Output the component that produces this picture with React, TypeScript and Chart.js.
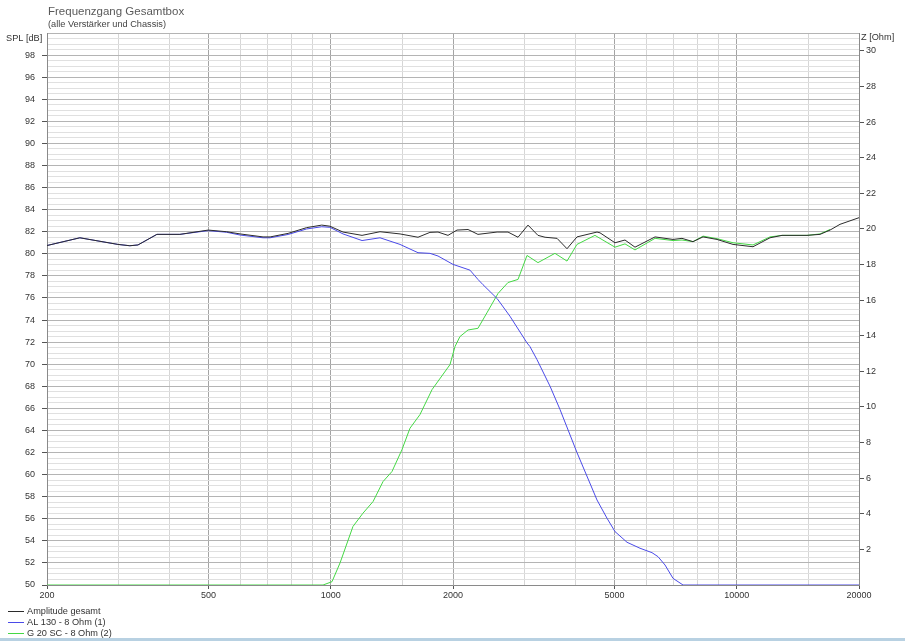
import React, { useEffect, useRef } from 'react';
import { Chart, registerables } from 'chart.js';

Chart.register(...registerables);

// ---- Data ----
const totalFreq = [200, 241, 299, 320, 335, 373, 425, 499, 554, 598, 681, 709, 785, 872, 950, 995, 1072, 1194, 1322, 1481, 1640, 1755, 1837, 1944, 2046, 2178, 2304, 2568, 2732, 2892, 3060, 3238, 3371, 3608, 3818, 4040, 4526, 4604, 5012, 5305, 5614, 6290, 6966, 7330, 7800, 8258, 8940, 9790, 10964, 12074, 12924, 14892, 16034, 16970, 17958, 20000];
const totalDb = [80.75, 81.45, 80.85, 80.73, 80.8, 81.76, 81.76, 82.15, 82.0, 81.8, 81.53, 81.53, 81.85, 82.37, 82.6, 82.5, 81.97, 81.67, 82.0, 81.8, 81.5, 81.94, 81.97, 81.67, 82.15, 82.2, 81.76, 81.97, 81.97, 81.5, 82.6, 81.67, 81.5, 81.4, 80.46, 81.53, 81.97, 81.9, 81.0, 81.25, 80.6, 81.53, 81.3, 81.4, 81.1, 81.53, 81.3, 80.85, 80.64, 81.45, 81.67, 81.67, 81.76, 82.15, 82.67, 83.27];

const wooferFreq = [200, 241, 299, 320, 335, 373, 425, 499, 554, 598, 681, 709, 785, 872, 950, 995, 1072, 1194, 1322, 1481, 1640, 1755, 1837, 2000, 2202, 2304, 2371, 2568, 2762, 3043, 3094, 3220, 3468, 3669, 4040, 4526, 4790, 5012, 5366, 5776, 6182, 6396, 6657, 6966, 7373, 20000];
const wooferDb = [80.75, 81.45, 80.85, 80.73, 80.8, 81.76, 81.76, 82.1, 81.95, 81.7, 81.45, 81.45, 81.75, 82.25, 82.45, 82.4, 81.8, 81.2, 81.45, 80.85, 80.1, 80.04, 79.8, 79.04, 78.52, 77.68, 77.2, 75.95, 74.35, 71.93, 71.6, 70.42, 68.0, 65.9, 62.0, 57.7, 56.05, 54.84, 53.87, 53.33, 52.93, 52.57, 51.81, 50.6, 50.0, 50.0];

const tweeterFreq = [200, 957, 1007, 1054, 1134, 1200, 1271, 1345, 1415, 1497, 1567, 1658, 1776, 1966, 2023, 2080, 2178, 2304, 2424, 2581, 2732, 2892, 3043, 3238, 3566, 3818, 4040, 4474, 5012, 5305, 5614, 6290, 6966, 7330, 7800, 8258, 8940, 9790, 10964, 12074, 12924, 14892, 16034, 16970];
const tweeterDb = [50.0, 50.0, 50.3, 52.0, 55.3, 56.5, 57.56, 59.37, 60.28, 62.25, 64.2, 65.43, 67.7, 69.96, 71.6, 72.5, 73.1, 73.25, 74.65, 76.4, 77.4, 77.68, 79.85, 79.2, 80.04, 79.34, 80.85, 81.67, 80.6, 80.9, 80.35, 81.4, 81.2, 81.25, 81.1, 81.6, 81.37, 81.0, 80.8, 81.53, 81.67, 81.67, 81.8, 82.2];

const seriesLabels = ['Amplitude gesamt', 'AL 130 - 8 Ohm (1)', 'G 20 SC - 8 Ohm (2)'];
const seriesColors = ['#2b2b2b', '#4a4ae8', '#44d844'];

const xGridValues = [200, 300, 400, 500, 600, 700, 800, 900, 1000, 1500, 2000, 3000, 4000, 5000, 6000, 7000, 8000, 9000, 10000, 15000, 20000];
const xLabelValues = [200, 500, 1000, 2000, 5000, 10000, 20000];
const xMajorValues = [500, 1000, 2000, 5000, 10000];

const splMin = 50;
const splMax = 100;
const splGridStep = 0.5;
const splLabelStep = 2;
const zMin = 0;
const zMax = 31;
const zLabels = [2, 4, 6, 8, 10, 12, 14, 16, 18, 20, 22, 24, 26, 28, 30];

const titleText = 'Frequenzgang Gesamtbox';
const subtitleText = '(alle Verstärker und Chassis)';
const leftAxisTitle = 'SPL [dB]';
const rightAxisTitle = 'Z [Ohm]';

const FONT = '"Liberation Sans", Arial, sans-serif';

const toPoints = (xs: number[], ys: number[]) => xs.map((x, i) => ({ x, y: ys[i] }));

const textPlugin = {
  id: 'extraTexts',
  afterDraw(chart: any) {
    const c = chart.ctx as CanvasRenderingContext2D;
    c.save();
    c.textAlign = 'left';
    c.textBaseline = 'alphabetic';
    c.fillStyle = '#5a5a5a';
    c.font = `11.5px ${FONT}`;
    c.fillText(titleText, 48, 15);
    c.fillStyle = '#444';
    c.font = `9.2px ${FONT}`;
    c.fillText(subtitleText, 48, 27);
    c.textBaseline = 'middle';
    c.fillStyle = '#333';
    c.fillText(leftAxisTitle, 6, 38);
    c.fillText(rightAxisTitle, 861, 37);
    seriesLabels.forEach((lab, i) => {
      const y = 611 + i * 11;
      c.fillStyle = seriesColors[i];
      c.fillRect(8, y, 16, 1);
      c.fillStyle = '#333';
      c.fillText(lab, 27, y + 0.5);
    });
    c.restore();
  },
};

export default function App() {
  const ref = useRef<HTMLCanvasElement | null>(null);

  useEffect(() => {
    if (!ref.current) return;
    const splGrid: number[] = [];
    for (let v = splMin; v <= splMax + 1e-9; v += splGridStep) splGrid.push(Math.round(v * 10) / 10);
    const isSplLabel = (v: number) => Math.abs(v % splLabelStep) < 1e-6 && v < splMax;

    const chart = new Chart(ref.current, {
      type: 'line',
      data: {
        datasets: [
          { label: seriesLabels[0], data: toPoints(totalFreq, totalDb), borderColor: seriesColors[0], borderWidth: 1, pointRadius: 0, tension: 0, yAxisID: 'y' },
          { label: seriesLabels[1], data: toPoints(wooferFreq, wooferDb), borderColor: seriesColors[1], borderWidth: 1, pointRadius: 0, tension: 0, yAxisID: 'y' },
          { label: seriesLabels[2], data: toPoints(tweeterFreq, tweeterDb), borderColor: seriesColors[2], borderWidth: 1, pointRadius: 0, tension: 0, yAxisID: 'y' },
        ],
      },
      options: {
        animation: false,
        responsive: false,
        maintainAspectRatio: false,
        layout: { padding: { top: 33, left: 0, right: 0, bottom: 0 } },
        font: { family: FONT, size: 9 },
        plugins: { legend: { display: false }, tooltip: { enabled: false }, title: { display: false } },
        scales: {
          x: {
            type: 'logarithmic',
            min: 200,
            max: 20000,
            afterBuildTicks: (ax: any) => { ax.ticks = xGridValues.map((v) => ({ value: v })); },
            afterFit: (s: any) => { s.height = 56; },
            ticks: {
              autoSkip: false,
              maxRotation: 0,
              minRotation: 0,
              padding: 1,
              color: '#333',
              font: { family: FONT, size: 9 },
              callback: (v: any) => (xLabelValues.includes(Number(v)) ? String(v) : ''),
            },
            grid: {
              lineWidth: 1,
              tickLength: 4,
              color: (ctx: any) => (xMajorValues.includes(ctx.tick?.value) ? '#a4a4a4' : '#d6d6d6'),
              tickColor: (ctx: any) => (xLabelValues.includes(ctx.tick?.value) ? '#555' : 'rgba(0,0,0,0)'),
            },
            border: { color: '#8a8a8a' },
          },
          y: {
            type: 'linear',
            position: 'left',
            min: splMin,
            max: splMax,
            afterBuildTicks: (ax: any) => { ax.ticks = splGrid.map((v) => ({ value: v })); },
            afterFit: (s: any) => { s.width = 47; },
            ticks: {
              autoSkip: false,
              padding: 7,
              color: '#333',
              font: { family: FONT, size: 9 },
              callback: (v: any) => (isSplLabel(Number(v)) ? String(v) : ''),
            },
            grid: {
              lineWidth: 1,
              tickLength: 5,
              color: (ctx: any) => (Math.abs((ctx.tick?.value ?? 0) % splLabelStep) < 1e-6 ? '#b4b4b4' : '#e0e0e0'),
              tickColor: (ctx: any) => (isSplLabel(ctx.tick?.value ?? -1) ? '#555' : 'rgba(0,0,0,0)'),
            },
            border: { color: '#8a8a8a' },
          },
          y2: {
            type: 'linear',
            position: 'right',
            min: zMin,
            max: zMax,
            afterBuildTicks: (ax: any) => { ax.ticks = zLabels.map((v) => ({ value: v })); },
            afterFit: (s: any) => { s.width = 46; },
            ticks: {
              autoSkip: false,
              padding: 2,
              color: '#333',
              font: { family: FONT, size: 9 },
              callback: (v: any) => String(v),
            },
            grid: { drawOnChartArea: false, tickLength: 5, tickColor: '#555' },
            border: { color: '#8a8a8a' },
          },
        },
      } as any,
      plugins: [textPlugin],
    });
    return () => chart.destroy();
  }, []);

  return (
    <div style={{ position: 'absolute', left: 0, top: 0, width: 905, height: 641, background: '#fff', overflow: 'hidden' }}>
      <canvas ref={ref} width={905} height={641} style={{ display: 'block', width: 905, height: 641 }} />
      <div style={{ position: 'absolute', left: 0, top: 638, width: 905, height: 3, background: '#b8d1e2' }} />
    </div>
  );
}
